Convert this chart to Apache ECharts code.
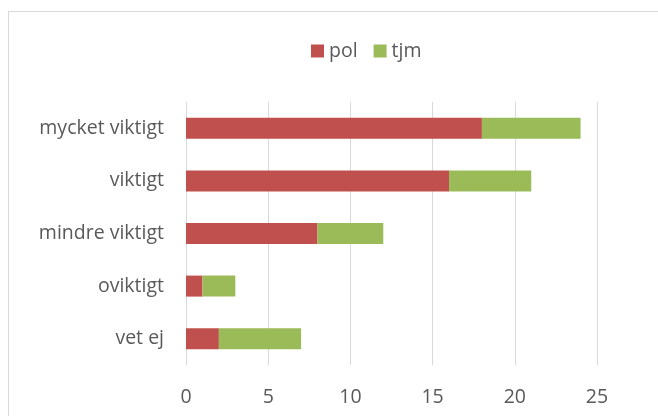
<!DOCTYPE html>
<html>
<head>
<meta charset="utf-8">
<script src="https://cdn.jsdelivr.net/npm/echarts@6/dist/echarts.min.js"></script>
<style>
  html, body { margin: 0; padding: 0; background: #fff; }
  #chart { width: 658px; height: 416px; }
</style>
</head>
<body>
<div id="chart"></div>
<script>
const categories = ['mycket viktigt', 'viktigt', 'mindre viktigt', 'oviktigt', 'vet ej']
const polValues = [18, 16, 8, 1, 2]
const tjmValues = [6, 5, 4, 2, 5]
const xTicks = [0, 5, 10, 15, 20, 25]

const textFont = 'Open Sans'
const chart = echarts.init(document.getElementById('chart'))

chart.setOption({
  animation: false,
  color: ['#C0504D', '#9BBB59'],
  graphic: [
    {
      type: 'rect',
      shape: { x: 8.5, y: 11.5, width: 700, height: 500 },
      style: { fill: 'none', stroke: '#d9d9d9', lineWidth: 1 }
    }
  ],
  legend: {
    top: 36,
    left: 306,
    icon: 'rect',
    itemWidth: 13,
    itemHeight: 13,
    itemGap: 16,
    textStyle: { color: '#595959', fontSize: 19.5, fontFamily: textFont }
  },
  grid: {
    left: 186,
    right: 61,
    top: 102,
    bottom: 51
  },
  xAxis: {
    type: 'value',
    min: xTicks[0],
    max: xTicks[xTicks.length - 1],
    interval: 5,
    axisLine: { show: false },
    axisTick: { show: false },
    splitLine: { lineStyle: { color: '#d9d9d9', width: 1 } },
    axisLabel: {
      color: '#595959',
      fontSize: 19.5,
      fontFamily: textFont,
      margin: 22
    }
  },
  yAxis: {
    type: 'category',
    inverse: true,
    data: categories,
    axisLine: { show: false },
    axisTick: { show: false },
    axisLabel: {
      color: '#595959',
      fontSize: 19.5,
      fontFamily: textFont,
      margin: 22
    }
  },
  series: [
    {
      name: 'pol',
      type: 'bar',
      stack: 'total',
      barWidth: 21,
      data: polValues
    },
    {
      name: 'tjm',
      type: 'bar',
      stack: 'total',
      barWidth: 21,
      data: tjmValues
    }
  ]
})
</script>
</body>
</html>
